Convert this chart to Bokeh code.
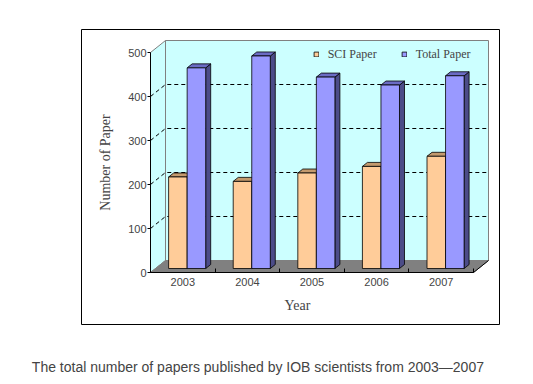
from bokeh.plotting import figure
from bokeh.models import Range1d, FixedTicker, Legend, LegendItem, Label, BoxAnnotation
from bokeh.embed import file_html
from bokeh.resources import INLINE

# ---------------- data ----------------
years = ["2003", "2004", "2005", "2006", "2007"]
sci_paper = [208, 198, 217, 232, 255]
total_paper = [456, 483, 435, 417, 438]
y_ticks = [0, 100, 200, 300, 400, 500]
y_max = 500
series_names = ["SCI Paper", "Total Paper"]
caption = "The total number of papers published by IOB scientists from 2003\u20142007"

# ---------------- geometry (page pixels) ----------------
PX_X0, PX_PER_CAT = 150.0, 64.6      # front plane: x=0 position, px per category
PX_Y0, PX_PER_UNIT = 272.0, 0.44     # front plane: y=0 position, px per paper
DEPTH_PX_X, DEPTH_PX_Y = 15.0, 12.0  # 3-D depth offset of the back wall


def xd(px):
    return (px - PX_X0) / PX_PER_CAT


def yd(py):
    return (PX_Y0 - py) / PX_PER_UNIT


DX = DEPTH_PX_X / PX_PER_CAT
DY = DEPTH_PX_Y / PX_PER_UNIT
n = len(years)

FIG_W, FIG_H = 510, 380

p = figure(width=FIG_W, height=FIG_H, output_backend="svg", toolbar_location=None,
           x_range=Range1d(xd(0), xd(FIG_W)), y_range=Range1d(yd(FIG_H), yd(0)),
           min_border=0, min_border_left=0, min_border_right=0,
           min_border_top=0, min_border_bottom=0,
           background_fill_color="white", border_fill_color="white",
           outline_line_color=None)
p.xgrid.visible = False
p.ygrid.visible = False

WALL = "#CCFFFF"
WALL_EDGE = "#808080"

# left wall
p.patch([0, 0, DX, DX], [0, y_max, y_max + DY, DY],
        fill_color=WALL, line_color=WALL_EDGE, line_width=1)
# back wall
p.patch([DX, DX, n + DX, n + DX], [DY, y_max + DY, y_max + DY, DY],
        fill_color=WALL, line_color=WALL_EDGE, line_width=1)
# floor
p.patch([0, n, n + DX, DX], [0, 0, DY, DY],
        fill_color="#808080", line_color="#808080", line_width=1)
p.line([n, n + DX], [0, DY], line_color="black", line_width=1)

# dashed gridlines (left wall diagonal + back wall)
gxs, gys = [], []
for t in y_ticks[1:-1]:
    gxs.append([0, DX, n + DX])
    gys.append([t, t + DY, t + DY])
p.multi_line(gxs, gys, line_color="black", line_width=1, line_dash="4 3")

# ---------------- 3-D bars ----------------
F1, F2 = 1 / 3, 2 / 3
BAR_W = 0.287
OFFSETS = [0.203, 0.49]
COLORS = [("#FFCC99", "#C49A6E", "#99795A"),
          ("#9999FF", "#6B6BC4", "#4C4C88")]


def faces(vals, off):
    fx, fy, tx, ty, sx, sy = [], [], [], [], [], []
    for i, v in enumerate(vals):
        xl = i + off
        xr = xl + BAR_W
        a1x, a1y = DX * F1, DY * F1
        a2x, a2y = DX * F2, DY * F2
        fx.append([xl + a1x, xr + a1x, xr + a1x, xl + a1x])
        fy.append([a1y, a1y, v + a1y, v + a1y])
        tx.append([xl + a1x, xr + a1x, xr + a2x, xl + a2x])
        ty.append([v + a1y, v + a1y, v + a2y, v + a2y])
        sx.append([xr + a1x, xr + a2x, xr + a2x, xr + a1x])
        sy.append([a1y, a2y, v + a2y, v + a1y])
    return fx, fy, tx, ty, sx, sy


front_renderers = []
for vals, off, (cf, ct, cs) in zip([sci_paper, total_paper], OFFSETS, COLORS):
    fx, fy, tx, ty, sx, sy = faces(vals, off)
    p.patches(sx, sy, fill_color=cs, line_color="black", line_width=0.8)
    p.patches(tx, ty, fill_color=ct, line_color="black", line_width=0.8)
    r = p.patches(fx, fy, fill_color=cf, line_color="black", line_width=0.8)
    front_renderers.append(r)

# ---------------- axes ----------------
ya = p.yaxis[0]
ya.fixed_location = 0
ya.ticker = FixedTicker(ticks=y_ticks)
ya.bounds = (0, y_max)
ya.major_tick_out = 3
ya.major_tick_in = 0
ya.minor_tick_line_color = None
ya.major_label_text_font = "Liberation Sans"
ya.major_label_text_font_size = "11px"
ya.major_label_standoff = 1
ya.axis_label = "Number of Paper"
ya.axis_label_text_font = "Liberation Serif"
ya.axis_label_text_font_size = "14px"
ya.axis_label_text_font_style = "normal"
ya.axis_label_standoff = 12

xa = p.xaxis[0]
xa.fixed_location = 0
xa.ticker = FixedTicker(ticks=[i + 0.5 for i in range(n)], minor_ticks=list(range(n + 1)))
xa.major_label_overrides = {i + 0.5: y for i, y in enumerate(years)}
xa.bounds = (0, n)
xa.major_tick_in = 0
xa.major_tick_out = 0
xa.minor_tick_in = 4
xa.minor_tick_out = 0
xa.minor_tick_line_color = "black"
xa.major_label_text_font = "Liberation Sans"
xa.major_label_text_font_size = "11px"
xa.major_label_standoff = 5

# ---------------- legend ----------------
legend = Legend(items=[LegendItem(label=series_names[0], renderers=[front_renderers[0]]),
                       LegendItem(label=series_names[1], renderers=[front_renderers[1]])],
                orientation="horizontal", location=(312.7, FIG_H - 61.5),
                glyph_width=6, glyph_height=6, label_standoff=9, spacing=24,
                padding=0, margin=0, background_fill_alpha=0, border_line_alpha=0,
                label_text_font="Liberation Serif", label_text_font_size="12px")
p.add_layout(legend)

# ---------------- texts and frame box ----------------
p.add_layout(Label(x=xd(297), y=yd(305), text="Year", text_align="center",
                   text_baseline="middle", text_font="Liberation Serif",
                   text_font_size="14px"))
p.add_layout(Label(x=xd(257.4), y=yd(366.7), text=caption, text_align="center",
                   text_baseline="middle", text_font="Liberation Sans",
                   text_font_size="14px"))
p.add_layout(BoxAnnotation(left=xd(81), right=xd(499), top=yd(29), bottom=yd(324),
                           fill_alpha=0, line_color="black", line_width=1, line_alpha=1))

open("out.html", "w").write(file_html(p, INLINE))
